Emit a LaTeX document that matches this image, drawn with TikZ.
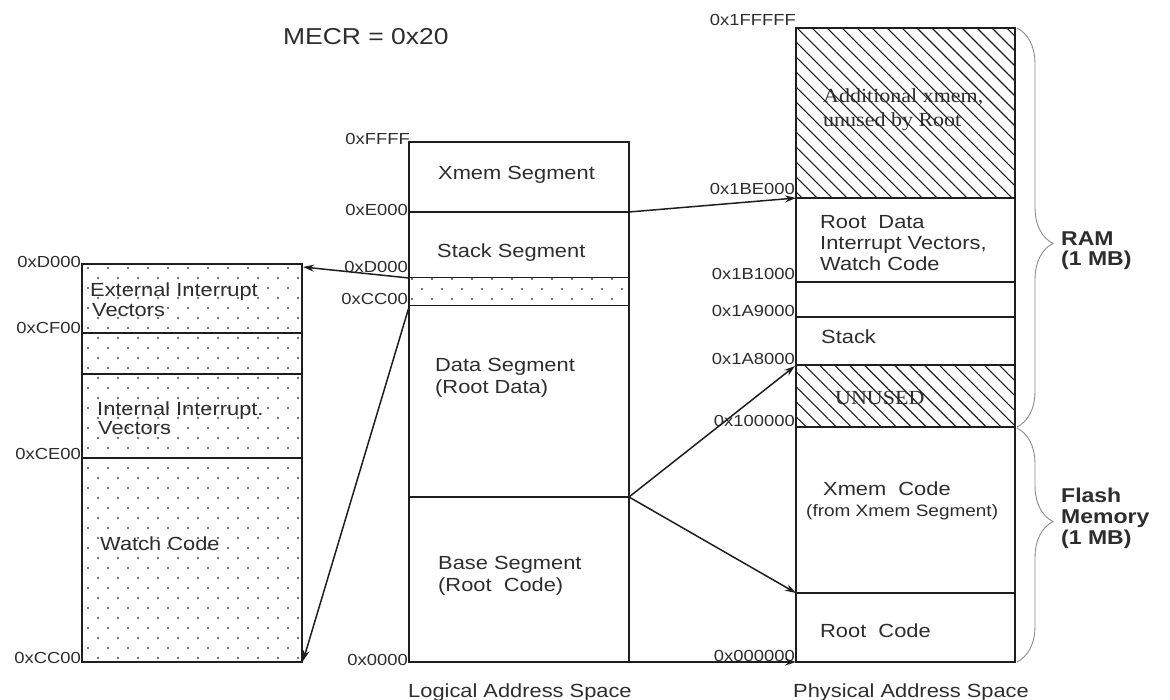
\documentclass[tikz,border=0pt]{standalone}
\usepackage{fontspec}
\setmainfont{Liberation Sans}[FakeStretch=1.15]
\newfontfamily\serifx{Liberation Serif}[FakeStretch=1.1]
\usetikzlibrary{arrows.meta,patterns.meta,decorations.pathreplacing}
\definecolor{txt}{RGB}{45,45,45}
\definecolor{ln}{RGB}{30,30,30}
\definecolor{dotc}{RGB}{70,70,70}
\definecolor{brc}{RGB}{140,140,140}
\tikzset{
  addr/.style={font=\fontsize{16}{18}\selectfont, anchor=base east, inner sep=0pt, text=txt},
  lbl/.style={font=\fontsize{19}{22}\selectfont, anchor=base west, inner sep=0pt, text=txt},
  small/.style={font=\fontsize{16.5}{19}\selectfont, anchor=base west, inner sep=0pt, text=txt},
  serl/.style={font=\serifx\fontsize{20}{23}\selectfont, anchor=base west, inner sep=0pt, text=txt},
  bold/.style={font=\bfseries\fontsize{20}{21}\selectfont, anchor=base west, inner sep=0pt, text=txt},
  boxline/.style={draw=ln, line width=1.6pt},
  thick line/.style={draw=ln, line width=2.6pt},
  hatch/.style={pattern={Lines[angle=-45,distance=10.6pt,line width=1.1pt]}, pattern color=ln},
  arr/.style={draw=ln, line width=1.5pt, -{Stealth[length=11pt,width=7pt]}},
  bracestyle/.style={draw=brc, line width=0.9pt, decorate},
}
\begin{document}
\begin{tikzpicture}[x=1pt,y=-1pt]
\useasboundingbox (0,0) rectangle (1170,700);

% ---------- title ----------
\node[font=\fontsize{23}{26}\selectfont, anchor=base west, inner sep=0pt, text=txt] (mecr) at (283,45) {MECR = 0x20};

% ---------- left box (root data detail) ----------
\begin{scope}
  \clip (82,264) rectangle (302,662);
  \foreach \r in {0,...,40} {
    \pgfmathsetmacro\yy{268+10*\r}
    \pgfmathsetmacro\xo{88+10*mod(\r,2)}
    \foreach \c in {0,...,11} {
      \fill[dotc] ({\xo+20*\c},\yy) circle (1.1pt);
    }
  }
\end{scope}
\draw[boxline] (82,264) rectangle (302,662);
\draw[thick line] (82,333) -- (302,333);
\draw[boxline] (82,374) -- (302,374);
\draw[thick line] (82,458) -- (302,458);
\draw[thick line] (302,264) -- (302,662);
\coordinate (lTop) at (303,267);
\coordinate (lBot) at (303,661);

\node[addr] (aD000l) at (81,268) {0xD000};
\node[addr] (aCF00) at (81,334) {0xCF00};
\node[addr] (aCE00) at (81,459) {0xCE00};
\node[addr] (aCC00l) at (81,663) {0xCC00};

\node[lbl] (ext1) at (90,297) {External Interrupt};
\node[lbl] (ext2) at (92,317) {Vectors};
\node[lbl] (int1) at (97,415) {Internal Interrupt.};
\node[lbl] (int2) at (98,435) {Vectors};
\node[lbl] (watch) at (100,550) {Watch Code};

% ---------- middle box (logical space) ----------
\begin{scope}
  \clip (409,278) rectangle (629,306);
  \foreach \r in {0,...,3} {
    \pgfmathsetmacro\yy{279+10*\r}
    \pgfmathsetmacro\xo{432-10*mod(\r,2)}
    \foreach \c in {-1,...,11} {
      \fill[dotc] ({\xo+20*\c},\yy) circle (1.1pt);
    }
  }
\end{scope}
\draw[boxline] (409,142) rectangle (629,662);
\draw[boxline] (409,212) -- (629,212);
\draw[draw=ln, line width=1pt] (409,278) -- (629,278);
\draw[draw=ln, line width=1pt] (409,306) -- (629,306);
\draw[boxline] (409,497) -- (629,497);

\node[addr] (aFFFF) at (410,145) {0xFFFF};
\node[addr] (aE000) at (408,216) {0xE000};
\node[addr] (aD000m) at (408,273) {0xD000};
\node[addr] (aCC00m) at (408,305) {0xCC00};
\node[addr] (a0000) at (408,665) {0x0000};

\node[lbl] (xmseg) at (438,180) {Xmem Segment};
\node[lbl] (stseg) at (437,258) {Stack Segment};
\node[lbl] (dseg1) at (435,372) {Data Segment};
\node[lbl] (dseg2) at (435,394) {(Root Data)};
\node[lbl] (bseg1) at (438,569) {Base Segment};
\node[lbl] (bseg2) at (438,591) {(Root\ \ Code)};
\node[lbl] (logical) at (408,697) {Logical Address Space};

\coordinate (mE000) at (629,212);
\coordinate (mD000) at (409,278);
\coordinate (mCC00) at (409,307);
\coordinate (mBase) at (629,497);
\coordinate (mZero) at (629,662);

% ---------- right box (physical space) ----------
\fill[white] (796,28) rectangle (1015,662);
\fill[hatch] (796,28) rectangle (1015,198);
\fill[hatch] (796,365) rectangle (1015,427);
\draw[boxline] (796,28) rectangle (1015,662);
\draw[boxline] (796,198) -- (1015,198);
\draw[boxline] (796,282) -- (1015,282);
\draw[thick line] (796,317) -- (1015,317);
\draw[boxline] (796,365) -- (1015,365);
\draw[thick line] (796,427) -- (1015,427);
\draw[boxline] (796,593) -- (1015,593);
\draw[thick line] (1015,28) -- (1015,662);

\node[addr] (p1FFFFF) at (796,26) {0x1FFFFF};
\node[addr] (p1BE000) at (795,195) {0x1BE000};
\node[addr] (p1B1000) at (795,280) {0x1B1000};
\node[addr] (p1A9000) at (795,317) {0x1A9000};
\node[addr] (p1A8000) at (795,365) {0x1A8000};
\node[addr] (p100000) at (795,427) {0x100000};
\node[addr] (p000000) at (795,661) {0x000000};

\node[serl] (add1) at (823,103) {Additional xmem,};
\node[serl] (add2) at (823,127) {unused by Root};
\node[lbl] (rd1) at (820,229) {Root\ \ Data};
\node[lbl] (rd2) at (820,250) {Interrupt Vectors,};
\node[lbl] (rd3) at (820,271) {Watch Code};
\node[lbl] (stk) at (821,344) {Stack};
\node[serl] (unused) at (835,405) {UNUSED};
\node[lbl] (xc1) at (823,495) {Xmem\ \ Code};
\node[small] (xc2) at (806,516) {(from Xmem Segment)};
\node[lbl] (rc) at (820,637) {Root\ \ Code};
\node[lbl] (physical) at (793,697) {Physical Address Space};

\coordinate (p1BEpt) at (796,198);
\coordinate (p1A8pt) at (795,366);
\coordinate (pRootpt) at (796,593);
\coordinate (pZeropt) at (796,662);

% ---------- braces ----------
\coordinate (bRamTop) at (1017,28);
\coordinate (bRamBot) at (1017,427);
\coordinate (bFlTop) at (1017,428);
\coordinate (bFlBot) at (1017,662);
\draw[bracestyle, decoration={brace, amplitude=36pt, aspect=0.54}] (bRamTop) -- (bRamBot);
\draw[bracestyle, decoration={brace, amplitude=36pt, aspect=0.40}] (bFlTop) -- (bFlBot);

\node[bold] (ram1) at (1061,246) {RAM};
\node[bold] (ram2) at (1061,266) {(1 MB)};
\node[bold] (fl1) at (1061,502) {Flash};
\node[bold] (fl2) at (1061,523) {Memory};
\node[bold] (fl3) at (1061,544) {(1 MB)};

% ---------- connectors ----------
\draw[arr] (mE000) -- (p1BEpt);
\draw[arr] (mD000) -- (lTop);
\draw[arr] (mCC00) -- (lBot);
\draw[arr] (mBase) -- (p1A8pt);
\draw[arr] (mBase) -- (pRootpt);
\draw[arr] (mZero) -- (pZeropt);
\end{tikzpicture}
\end{document}
